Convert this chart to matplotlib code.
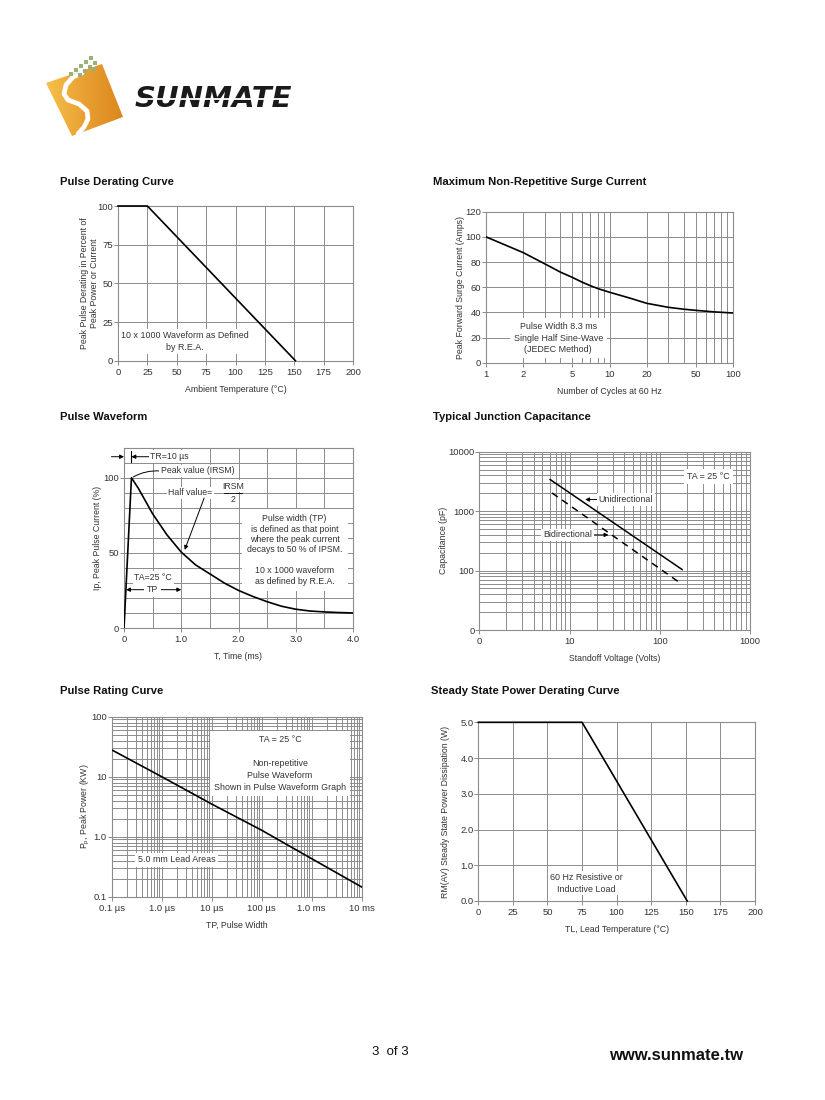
import numpy as np
import matplotlib
matplotlib.use('Agg')
import matplotlib.pyplot as plt
import matplotlib.ticker as mticker
from matplotlib.patches import Polygon
from matplotlib.colors import LinearSegmentedColormap

# ---------------- data ----------------
derate_temp = [0, 25, 151]
derate_pct = [100, 100, 0]
derate_xticks = [0, 25, 50, 75, 100, 125, 150, 175, 200]
derate_yticks = [0, 25, 50, 75, 100]

surge_cycles = [1, 2, 3, 4, 5, 6, 7, 8, 10, 15, 20, 30, 40, 50, 70, 100]
surge_amps = [100, 87.5, 78.5, 72, 67.8, 64, 61.2, 59, 56, 51, 47.2, 44, 42.5, 41.6, 40.4, 39.5]
surge_xticks = [1, 2, 5, 10, 20, 50, 100]
surge_xlabels = ['1', '2', '5', '10', '20', '50', '100']
surge_yticks = [0, 20, 40, 60, 80, 100, 120]

wave_t = [0, 0.13, 0.25, 0.5, 0.75, 1.0, 1.25, 1.5, 1.75, 2.0, 2.25, 2.5, 2.75,
          3.0, 3.25, 3.5, 3.75, 4.0]
wave_i = [0, 100, 93, 76, 62, 50.5, 42, 36, 30, 25, 21, 17.5, 14.5,
          12.5, 11.3, 10.7, 10.3, 10]
wave_xticks = [0, 1.0, 2.0, 3.0, 4.0]
wave_xlabels = ['0', '1.0', '2.0', '3.0', '4.0']
wave_yticks = [0, 50, 100]

cap_uni_v = [6.1, 177]
cap_uni_pf = [3400, 104]
cap_bi_v = [6.4, 163]
cap_bi_pf = [2020, 64]
cap_xticks = [1, 10, 100, 1000]
cap_xlabels = ['0', '10', '100', '1000']
cap_yticks = [10, 100, 1000, 10000]
cap_ylabels = ['0', '100', '1000', '10000']

rating_tp_us = [0.1, 1, 10, 100, 1000, 10000]
rating_kw = [28, 10, 3.5, 1.28, 0.43, 0.145]
rating_xlabels = ['0.1 µs', '1.0 µs', '10 µs', '100 µs', '1.0 ms', '10 ms']
rating_yticks = [0.1, 1, 10, 100]
rating_ylabels = ['0.1', '1.0', '10', '100']

ss_temp = [0, 75, 151]
ss_watt = [5.0, 5.0, 0.0]
ss_xticks = [0, 25, 50, 75, 100, 125, 150, 175, 200]
ss_yticks = [0.0, 1.0, 2.0, 3.0, 4.0, 5.0]

# ---------------- style ----------------
plt.rcParams['font.family'] = ['Liberation Sans Narrow', 'Liberation Sans', 'DejaVu Sans']
W, H = 825, 1100
GRID = '#8c8c8c'
TXT = '#333333'
TITLEFONT = ['Liberation Sans', 'DejaVu Sans']
LBL = 6.3      # axis label size
ANN = 6.4      # annotation size
BOX = dict(boxstyle='square,pad=0.2', fc='white', ec='none')
ARW = dict(arrowstyle='-|>', color='k', lw=0.7, mutation_scale=6, shrinkA=0, shrinkB=0)

fig = plt.figure(figsize=(W / 100, H / 100), dpi=100)


def fx(px):
    return px / W


def fy(py):
    return 1 - py / H


def make_ax(left, top, right, bottom):
    ax = fig.add_axes([fx(left), fy(bottom), fx(right - left), (bottom - top) / H])
    for s in ax.spines.values():
        s.set_color(GRID)
        s.set_linewidth(0.8)
    ax.tick_params(which='major', length=3, width=0.7, color=GRID, labelsize=6.8,
                   labelcolor=TXT, pad=2)
    ax.tick_params(axis='y', which='major', pad=0.5)
    ax.tick_params(which='minor', length=0)
    ax.set_axisbelow(True)
    return ax


def grid(ax):
    ax.grid(True, which='both', color=GRID, lw=0.7)


def title(x, y, s):
    fig.text(fx(x), fy(y), s, fontsize=8.1, fontweight='bold', family=TITLEFONT,
             va='center', ha='left', color='#111111')


# ---------------- logo ----------------
lg = fig.add_axes([0, 0, 1, 1])
lg.axis('off')
sq = [(46, 83), (102, 64), (123, 117), (72, 136)]
poly = Polygon(sq, closed=True, fc='none', ec='none', transform=lg.transData)
lg.add_patch(poly)
cmap = LinearSegmentedColormap.from_list('og', ['#F6C24C', '#E9A032', '#DC861C'])
grad = np.linspace(0, 1, 64).reshape(1, -1)
im = lg.imshow(grad, extent=[44, 125, 138, 62], cmap=cmap, aspect='auto', zorder=1)
im.set_clip_path(poly)
s_x = [82, 73, 66, 64, 68, 79, 87, 88, 84, 78]
s_y = [73, 77, 85, 94, 100, 104, 111, 119, 127, 134]
lg.plot(s_x, s_y, color='white', lw=3.4, solid_capstyle='round', solid_joinstyle='round', zorder=2)
dots_x = [91, 86, 95, 81, 90, 76, 85, 94, 71, 80]
dots_y = [58, 62, 63, 66, 67, 70, 71, 69, 74, 75]
lg.scatter(dots_x, dots_y, s=5, marker='s', color='#9DB07A', zorder=2, lw=0)
lg.text(135, 99, 'SUNMATE', fontsize=21, fontweight='heavy', style='italic',
        family='DejaVu Sans', color='#1a1a1a', va='center', ha='left', zorder=3)
lg.plot([133, 312], [99, 99], color='white', lw=1.3, zorder=4)
lg.set_xlim(0, W)
lg.set_ylim(H, 0)

# ---------------- panel 1: Pulse Derating Curve ----------------
title(60, 182, 'Pulse Derating Curve')
ax1 = make_ax(118, 206, 353, 360.7)
ax1.plot(derate_temp, derate_pct, color='k', lw=1.2, clip_on=False, zorder=4)
ax1.set_xlim(0, 200)
ax1.set_ylim(0, 100)
ax1.set_xticks(derate_xticks)
ax1.set_yticks(derate_yticks)
grid(ax1)
ax1.set_xlabel('Ambient Temperature (°C)', fontsize=LBL, color=TXT, labelpad=6)
ax1.set_ylabel('Peak Pulse Derating in Percent of\nPeak Power or Current', fontsize=LBL,
               color=TXT, labelpad=-1, linespacing=1.15)
ax1.text(57, 12.5, '10 x 1000 Waveform as Defined\nby R.E.A.', fontsize=ANN, color=TXT,
         ha='center', va='center', linespacing=1.4, bbox=BOX, zorder=3)

# ---------------- panel 2: Surge Current ----------------
title(433, 182, 'Maximum Non-Repetitive Surge Current')
ax2 = make_ax(486, 211.7, 733, 362.7)
ax2.set_xscale('log')
ax2.plot(surge_cycles, surge_amps, color='k', lw=1.2, zorder=4)
ax2.set_xlim(1, 100)
ax2.set_ylim(0, 120)
ax2.set_xticks(surge_xticks)
ax2.set_xticklabels(surge_xlabels)
ax2.xaxis.set_minor_locator(mticker.LogLocator(base=10, subs=(2, 3, 4, 5, 6, 7, 8, 9)))
ax2.xaxis.set_minor_formatter(mticker.NullFormatter())
ax2.set_yticks(surge_yticks)
grid(ax2)
ax2.set_xlabel('Number of Cycles at 60 Hz', fontsize=LBL, color=TXT, labelpad=6)
ax2.set_ylabel('Peak Forward Surge Current (Amps)', fontsize=LBL, color=TXT, labelpad=0.5)
ax2.text(3.85, 19.5, 'Pulse Width 8.3 ms\nSingle Half Sine-Wave\n(JEDEC Method)', fontsize=ANN,
         color=TXT, ha='center', va='center', linespacing=1.4,
         bbox=dict(boxstyle='square,pad=0.4', fc='white', ec='none'), zorder=3)

# ---------------- panel 3: Pulse Waveform ----------------
title(60, 417, 'Pulse Waveform')
ax3 = make_ax(124, 447.7, 353, 628)
ax3.plot(wave_t, wave_i, color='k', lw=1.2, zorder=4)
ax3.set_xlim(0, 4)
ax3.set_ylim(0, 120)
ax3.set_xticks(wave_xticks)
ax3.set_xticklabels(wave_xlabels)
ax3.set_yticks(wave_yticks)
ax3.xaxis.set_minor_locator(mticker.MultipleLocator(0.5))
ax3.yaxis.set_minor_locator(mticker.MultipleLocator(10))
grid(ax3)
ax3.set_xlabel('T, Time (ms)', fontsize=LBL, color=TXT, labelpad=6)
ax3.set_ylabel('Ip, Peak Pulse Current (%)', fontsize=LBL, color=TXT, labelpad=1)
fs3 = 6.3
# TR = 10 us
ax3.annotate('', xy=(0, 114), xytext=(-0.22, 114), arrowprops=ARW, annotation_clip=False)
ax3.plot([0.13, 0.13], [110.5, 117.5], color='k', lw=0.8, zorder=5)
ax3.annotate('', xy=(0.13, 114), xytext=(0.45, 114), arrowprops=ARW)
ax3.text(0.46, 114, 'TR=10 µs', fontsize=fs3, color=TXT, ha='left', va='center',
         bbox=BOX, zorder=3)
# Peak value
ax3.annotate('', xy=(0.16, 100.5), xytext=(0.63, 104.5),
             arrowprops=dict(arrowstyle='-', color='k', lw=0.7, shrinkA=0, shrinkB=0,
                             connectionstyle='arc3,rad=0.15'))
ax3.text(0.64, 104.5, 'Peak value (IRSM)', fontsize=fs3, color=TXT, ha='left', va='center',
         bbox=BOX, zorder=3)
# Half value
ax3.text(1.55, 90, 'Half value=', fontsize=fs3, color=TXT, ha='right', va='center',
         bbox=BOX, zorder=3)
ax3.text(1.9, 94.5, 'IRSM', fontsize=fs3, color=TXT, ha='center', va='center',
         bbox=BOX, zorder=3)
ax3.text(1.9, 85.5, '2', fontsize=fs3, color=TXT, ha='center', va='center',
         bbox=BOX, zorder=3)
ax3.plot([1.74, 2.06], [90, 90], color='k', lw=0.6, zorder=4)
ax3.annotate('', xy=(1.06, 52), xytext=(1.4, 86.5), arrowprops=ARW)
# description
ax3.text(2.98, 52, 'Pulse width (TP)\nis defined as that point\nwhere the peak current\n'
         'decays to 50 % of IPSM.\n\n10 x 1000 waveform\nas defined by R.E.A.',
         fontsize=fs3, color=TXT, ha='center', va='center', linespacing=1.2,
         bbox=dict(boxstyle='square,pad=0.6', fc='white', ec='none'), zorder=3)
ax3.text(0.51, 33.5, 'TA=25 °C', fontsize=fs3, color=TXT, ha='center', va='center',
         bbox=BOX, zorder=3)
ax3.annotate('', xy=(0.035, 25.5), xytext=(1.0, 25.5),
             arrowprops=dict(arrowstyle='<|-|>', color='k', lw=0.7, mutation_scale=6,
                             shrinkA=0, shrinkB=0))
ax3.text(0.5, 25.5, 'TP', fontsize=fs3, color=TXT, ha='center', va='center',
         bbox=dict(boxstyle='square,pad=0.35', fc='white', ec='none'), zorder=5)

# ---------------- panel 4: Junction Capacitance ----------------
title(433, 417, 'Typical Junction Capacitance')
ax4 = make_ax(479.3, 451.7, 750, 630)
ax4.set_xscale('log')
ax4.set_yscale('log')
ax4.plot(cap_uni_v, cap_uni_pf, color='k', lw=1.1, zorder=4)
ax4.plot(cap_bi_v, cap_bi_pf, color='k', lw=1.1, dashes=(4.5, 3.5), zorder=4)
ax4.set_xlim(1, 1000)
ax4.set_ylim(10, 10000)
ax4.set_xticks(cap_xticks)
ax4.set_xticklabels(cap_xlabels)
ax4.set_yticks(cap_yticks)
ax4.set_yticklabels(cap_ylabels)
for a in (ax4.xaxis, ax4.yaxis):
    a.set_minor_locator(mticker.LogLocator(base=10, subs=(2, 3, 4, 5, 6, 7, 8, 9)))
    a.set_minor_formatter(mticker.NullFormatter())
grid(ax4)
ax4.set_xlabel('Standoff Voltage (Volts)', fontsize=LBL, color=TXT, labelpad=6)
ax4.set_ylabel('Capacitance (pF)', fontsize=LBL, color=TXT, labelpad=0)
ax4.text(350, 3830, 'TA = 25 °C', fontsize=ANN, color=TXT, ha='center', va='center',
         bbox=dict(boxstyle='square,pad=0.35', fc='white', ec='none'), zorder=3)
ax4.annotate('', xy=(14.9, 1567), xytext=(20.5, 1567), arrowprops=ARW)
ax4.text(21, 1567, 'Unidirectional', fontsize=ANN, color=TXT, ha='left', va='center',
         bbox=BOX, zorder=3)
ax4.annotate('', xy=(27, 398), xytext=(18, 398), arrowprops=ARW)
ax4.text(17.7, 398, 'Bidirectional', fontsize=ANN, color=TXT, ha='right', va='center',
         bbox=BOX, zorder=3)

# ---------------- panel 5: Pulse Rating Curve ----------------
title(60, 691, 'Pulse Rating Curve')
ax5 = make_ax(111.7, 716.7, 361.7, 896.7)
ax5.set_xscale('log')
ax5.set_yscale('log')
ax5.plot(rating_tp_us, rating_kw, color='k', lw=1.2, zorder=4)
ax5.set_xlim(0.1, 10000)
ax5.set_ylim(0.1, 100)
ax5.set_xticks(rating_tp_us)
ax5.set_xticklabels(rating_xlabels)
ax5.set_yticks(rating_yticks)
ax5.set_yticklabels(rating_ylabels)
for a in (ax5.xaxis, ax5.yaxis):
    a.set_minor_locator(mticker.LogLocator(base=10, subs=(2, 3, 4, 5, 6, 7, 8, 9)))
    a.set_minor_formatter(mticker.NullFormatter())
grid(ax5)
ax5.set_xlabel('TP, Pulse Width', fontsize=LBL, color=TXT, labelpad=6)
ax5.set_ylabel('P$_\\mathregular{p}$, Peak Power (KW)', fontsize=LBL, color=TXT, labelpad=-1)
ax5.text(233, 16.5, 'TA = 25 °C\n\nNon-repetitive\nPulse Waveform\nShown in Pulse Waveform Graph',
         fontsize=ANN, color=TXT, ha='center', va='center', linespacing=1.45,
         bbox=dict(boxstyle='square,pad=0.45', fc='white', ec='none'), zorder=3)
ax5.text(2.0, 0.41, '5.0 mm Lead Areas', fontsize=ANN, color=TXT, ha='center', va='center',
         bbox=dict(boxstyle='square,pad=0.3', fc='white', ec='none'), zorder=3)

# ---------------- panel 6: Steady State Power Derating ----------------
title(431, 691, 'Steady State Power Derating Curve')
ax6 = make_ax(478.3, 722.3, 755, 901)
ax6.plot(ss_temp, ss_watt, color='k', lw=1.2, clip_on=False, zorder=4)
ax6.set_xlim(0, 200)
ax6.set_ylim(0, 5)
ax6.set_xticks(ss_xticks)
ax6.set_yticks(ss_yticks)
ax6.yaxis.set_major_formatter(mticker.FormatStrFormatter('%.1f'))
grid(ax6)
ax6.set_xlabel('TL, Lead Temperature (°C)', fontsize=LBL, color=TXT, labelpad=6)
ax6.set_ylabel('RM(AV) Steady State Power Dissipation (W)', fontsize=LBL, color=TXT,
               labelpad=7)
ax6.text(78, 0.5, '60 Hz Resistive or\nInductive Load', fontsize=ANN, color=TXT,
         ha='center', va='center', linespacing=1.45, bbox=BOX, zorder=3)

# ---------------- footer ----------------
fig.text(fx(372), fy(1052), '3  of 3', fontsize=9.5, family=TITLEFONT, color='#111111',
         va='center', ha='left')
fig.text(fx(609), fy(1055), 'www.sunmate.tw', fontsize=12, fontweight='bold',
         family=TITLEFONT, color='#111111', va='center', ha='left')

fig.savefig('out.png', dpi=100, facecolor='white')
